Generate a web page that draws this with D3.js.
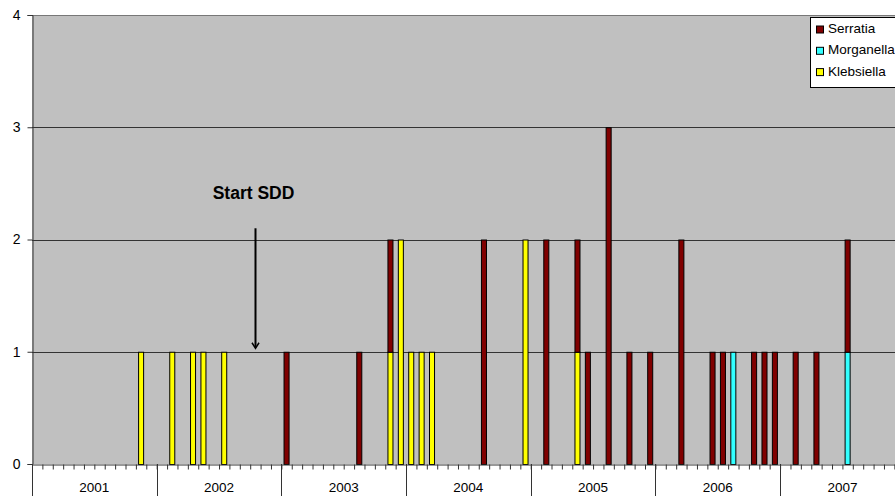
<!DOCTYPE html>
<html>
<head>
<meta charset="utf-8">
<script src="https://cdn.jsdelivr.net/npm/d3@7"></script>
<style>
  html, body { margin: 0; padding: 0; background: #fff; }
  svg { display: block; font-family: "Liberation Sans", Arial, sans-serif; }
</style>
</head>
<body>
<svg id="chart" width="895" height="496"></svg>
<script>
// ---- data ----
const years = ["2001", "2002", "2003", "2004", "2005", "2006", "2007"];
const monthsOfYear = ["01","02","03","04","05","06","07","08","09","10","11","12"];
const yTicks = [0, 1, 2, 3, 4];
const seriesNames = ["Klebsiella", "Morganella", "Serratia"];   // stack order, bottom to top
const legendOrder = ["Serratia", "Morganella", "Klebsiella"];
const colors = ["#FFFF00", "#33FFFF", "#800000"];

const klebsiella = [
  0,0,0,0,0,0,0,0,0,0,1,0,   // 2001
  0,1,0,1,1,0,1,0,0,0,0,0,   // 2002
  0,0,0,0,0,0,0,0,0,0,1,2,   // 2003
  1,1,1,0,0,0,0,0,0,0,0,2,   // 2004
  0,0,0,0,1,0,0,0,0,0,0,0,   // 2005
  0,0,0,0,0,0,0,0,0,0,0,0,   // 2006
  0,0,0,0,0,0,0,0,0,0,0,0    // 2007
];
const morganella = [
  0,0,0,0,0,0,0,0,0,0,0,0,
  0,0,0,0,0,0,0,0,0,0,0,0,
  0,0,0,0,0,0,0,0,0,0,0,0,
  0,0,0,0,0,0,0,0,0,0,0,0,
  0,0,0,0,0,0,0,0,0,0,0,0,
  0,0,0,0,0,0,0,1,0,0,0,0,
  0,0,0,0,0,0,1,0,0,0,0,0
];
const serratia = [
  0,0,0,0,0,0,0,0,0,0,0,0,
  0,0,0,0,0,0,0,0,0,0,0,0,
  1,0,0,0,0,0,0,1,0,0,1,0,
  0,0,0,0,0,0,0,2,0,0,0,0,
  0,2,0,0,1,1,0,3,0,1,0,1,
  0,0,2,0,0,1,1,0,0,1,1,1,
  0,1,0,1,0,0,1,0,0,0,0,0
];
const annotationText = "Start SDD";
const annotationMonth = "2002-10";

// ---- build table ----
const months = [];
years.forEach(yr => monthsOfYear.forEach(m => months.push(yr + "-" + m)));
const table = months.map((m, i) => ({
  month: m,
  Klebsiella: klebsiella[i],
  Morganella: morganella[i],
  Serratia: serratia[i]
}));

// ---- layout ----
const svg = d3.select("#chart");
const mLeft = 32, mTop = 15, mBottom = 464;
const step = 10.39;
const mRight = mLeft + step * months.length;

const x = d3.scaleBand().domain(months).range([mLeft, mRight])
  .paddingInner(0.42).paddingOuter(0.21);
const xYear = d3.scaleBand().domain(years).range([mLeft, mRight]);
const y = d3.scaleLinear().domain([0, 4]).range([mBottom, mTop]);

// plot background
svg.append("rect").attr("x", mLeft).attr("y", mTop)
  .attr("width", mRight - mLeft).attr("height", mBottom - mTop)
  .attr("fill", "#C0C0C0");

// gridlines
svg.append("g").selectAll("line").data(yTicks.filter(d => d > 0)).join("line")
  .attr("x1", mLeft).attr("x2", mRight)
  .attr("y1", d => Math.round(y(d)) + 0.5).attr("y2", d => Math.round(y(d)) + 0.5)
  .attr("stroke", d => d === 4 ? "#777" : "#333").attr("stroke-width", 1);

// stacked bars
const stack = d3.stack().keys(seriesNames);
const stacked = stack(table);
svg.append("g").selectAll("g").data(stacked).join("g")
  .attr("fill", (d, i) => colors[i])
  .selectAll("rect").data(d => d.filter(p => p[1] - p[0] > 0)).join("rect")
  .attr("x", d => x(d.data.month) + 0.5)
  .attr("y", d => y(d[1]) + 0.5)
  .attr("width", x.bandwidth() - 1)
  .attr("height", d => y(d[0]) - y(d[1]))
  .attr("stroke", "#000").attr("stroke-width", 1);

// y axis
const yAxis = d3.axisLeft(y).tickValues(yTicks).tickSize(5).tickPadding(7).tickFormat(d3.format("d"));
const gy = svg.append("g").attr("transform", `translate(${mLeft + 0.5},0)`).call(yAxis);
gy.select(".domain").attr("stroke", "#333");
gy.selectAll(".tick line").attr("stroke", "#333");
gy.selectAll(".tick text").attr("font-size", 14).attr("fill", "#000")
  .attr("font-family", "'Liberation Sans', Arial, sans-serif");

// x axis: month ticks
const xMonthScale = d3.scaleLinear().domain([0, months.length]).range([mLeft, mRight]);
const xAxisMonths = d3.axisBottom(xMonthScale)
  .tickValues(d3.range(0, months.length + 1)).tickSize(5).tickFormat("");
const gx = svg.append("g").attr("transform", `translate(0,${mBottom + 0.5})`).call(xAxisMonths);
gx.select(".domain").attr("stroke", "#333");
gx.selectAll(".tick line").attr("stroke", "#333");

// year separators
svg.append("g").selectAll("line").data(years.concat(["end"])).join("line")
  .attr("x1", (d, i) => Math.round(mLeft + i * xYear.bandwidth()) + 0.5)
  .attr("x2", (d, i) => Math.round(mLeft + i * xYear.bandwidth()) + 0.5)
  .attr("y1", mBottom).attr("y2", 496)
  .attr("stroke", "#333");

// year labels
svg.append("g").selectAll("text").data(years).join("text")
  .attr("x", d => xYear(d) + xYear.bandwidth() / 2)
  .attr("y", 488)
  .attr("text-anchor", "middle").attr("dominant-baseline", "middle")
  .attr("font-size", 13.5).attr("fill", "#000")
  .text(d => d);

// annotation
const ax = Math.round(x(annotationMonth) + x.bandwidth() / 2) + 0.5;
svg.append("text").attr("x", ax - 2).attr("y", y(2.4))
  .attr("text-anchor", "middle").attr("dominant-baseline", "middle")
  .attr("font-size", 17.5).attr("font-weight", "bold").attr("fill", "#000")
  .text(annotationText);
svg.append("line").attr("x1", ax).attr("x2", ax)
  .attr("y1", y(2.1)).attr("y2", y(1.04))
  .attr("stroke", "#000").attr("stroke-width", 2);
svg.append("path")
  .attr("d", `M${ax - 3.5},${y(1.08)} L${ax},${y(1.03)} L${ax + 3.5},${y(1.08)}`)
  .attr("fill", "none").attr("stroke", "#000").attr("stroke-width", 1.5);

// legend
const lg = svg.append("g").attr("transform", "translate(810.5,17.5)");
lg.append("rect").attr("width", 100).attr("height", 70)
  .attr("fill", "#fff").attr("stroke", "#000");
const rows = lg.selectAll("g").data(legendOrder).join("g")
  .attr("transform", (d, i) => `translate(0,${12 + i * 21.3})`);
rows.append("rect").attr("x", 6).attr("y", -3.5).attr("width", 7).attr("height", 7)
  .attr("fill", d => colors[seriesNames.indexOf(d)]).attr("stroke", "#000");
rows.append("text").attr("x", 17.5).attr("y", 0)
  .attr("dominant-baseline", "middle").attr("font-size", 13.5).attr("fill", "#000")
  .text(d => d);
</script>
</body>
</html>
